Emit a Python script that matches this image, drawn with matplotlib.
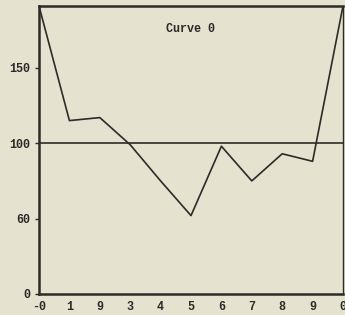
import matplotlib
matplotlib.use("Agg")
import matplotlib.pyplot as plt

# values
x = [0, 1, 2, 3, 4, 5, 6, 7, 8, 9, 10]
curve0 = [191, 115, 117, 99, 75, 52, 98, 75, 93, 88, 191]
ref_level = 100
yticks = [0, 50, 100, 150]
ytick_labels = ["0", "60", "100", "150"]
xtick_labels = ["-0", "1", "9", "3", "4", "5", "6", "7", "8", "9", "0"]

bg = "#e5e2d0"
ink = "#2b2b28"

fig = plt.figure(figsize=(3.45, 3.15), dpi=100, facecolor=bg)
ax = fig.add_axes([39/345, 21/315, 304/345, 288/315], facecolor=bg)

ax.plot(x, curve0, color=ink, lw=1.2)
ax.axhline(ref_level, color=ink, lw=1.2)

ax.set_xlim(0, 10)
ax.set_ylim(0, 191)

font = dict(family="Liberation Mono", weight="bold", size=8.5)
ax.set_yticks(yticks)
ax.set_yticklabels(ytick_labels, **font)
ax.set_xticks(x)
ax.set_xticklabels(xtick_labels, **font)
ax.tick_params(axis="y", direction="out", length=3, width=1, color=ink, pad=3, labelcolor=ink)
ax.tick_params(axis="x", direction="out", length=0, pad=5, labelcolor=ink)

for side in ["left", "bottom", "top"]:
    ax.spines[side].set_linewidth(1.8)
    ax.spines[side].set_color(ink)
ax.spines["right"].set_linewidth(1.0)
ax.spines["right"].set_color(ink)

ax.text(0.5, 0.92, "Curve 0", transform=ax.transAxes, ha="center", va="center",
        color=ink, **font)

fig.savefig("out.png", dpi=100, facecolor=bg)
